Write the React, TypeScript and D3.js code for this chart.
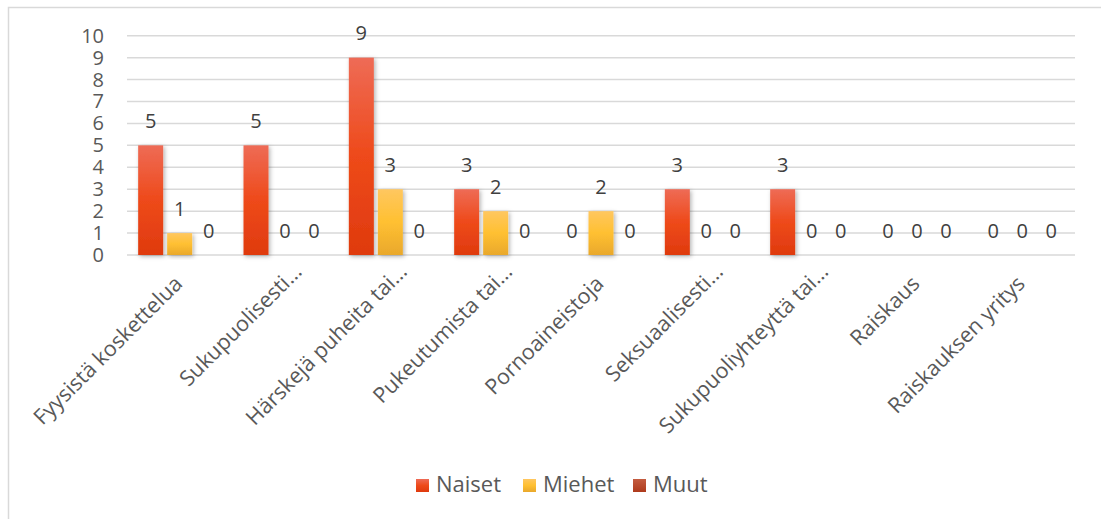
import React from 'react';
import * as d3 from 'd3';

const categories = [
  'Fyysistä koskettelua',
  'Sukupuolisesti…',
  'Härskejä puheita tai…',
  'Pukeutumista tai…',
  'Pornoaineistoja',
  'Seksuaalisesti…',
  'Sukupuoliyhteyttä tai…',
  'Raiskaus',
  'Raiskauksen yritys',
];
const seriesNames = ['Naiset', 'Miehet', 'Muut'];
const naiset = [5, 5, 9, 3, 0, 3, 3, 0, 0];
const miehet = [1, 0, 3, 2, 2, 0, 0, 0, 0];
const muut = [0, 0, 0, 0, 0, 0, 0, 0, 0];
const yTicks = [0, 1, 2, 3, 4, 5, 6, 7, 8, 9, 10];

const FONT = "'Open Sans', sans-serif";

export default function App() {
  const W = 1101;
  const H = 519;
  const plotLeft = 127;
  const plotRight = 1075;
  const plotTop = 35.7;
  const plotBottom = 255;

  const x = d3.scaleBand<string>().domain(categories).range([plotLeft, plotRight]).padding(0);
  const bw = x.bandwidth();
  const inner = d3
    .scaleBand<string>()
    .domain(seriesNames)
    .range([bw / 2 - 41.5, bw / 2 + 41.5])
    .paddingInner(0.138)
    .paddingOuter(0);
  const y = d3.scaleLinear().domain([0, 10]).range([plotBottom, plotTop]);

  const seriesData = [naiset, miehet, muut];
  const gradIds = ['gNaiset', 'gMiehet', 'gMuut'];

  const legendX = [416, 523, 633];

  return (
    <svg
      width={W}
      height={H}
      style={{ position: 'absolute', left: 0, top: 0, background: '#fff' }}
      fontFamily={FONT}
    >
      <defs>
        <linearGradient id="gNaiset" x1="0" y1="0" x2="0" y2="1">
          <stop offset="0%" stopColor="#EE6B56" />
          <stop offset="50%" stopColor="#EE4A1A" />
          <stop offset="100%" stopColor="#DF3A0E" />
        </linearGradient>
        <linearGradient id="gMiehet" x1="0" y1="0" x2="0" y2="1">
          <stop offset="0%" stopColor="#FFC760" />
          <stop offset="50%" stopColor="#FFC031" />
          <stop offset="100%" stopColor="#E9A82C" />
        </linearGradient>
        <linearGradient id="gMuut" x1="0" y1="0" x2="0" y2="1">
          <stop offset="0%" stopColor="#C45C40" />
          <stop offset="100%" stopColor="#AE3A1C" />
        </linearGradient>
        <filter id="shadow" x="-30%" y="-10%" width="160%" height="130%">
          <feDropShadow dx="1.5" dy="1.5" stdDeviation="2" floodColor="#000" floodOpacity="0.3" />
        </filter>
      </defs>

      <rect x={8.5} y={7.5} width={W} height={H} fill="#fff" stroke="#d9d9d9" strokeWidth={1.5} />

      {yTicks.map((t) => (
        <g key={t}>
          <line x1={plotLeft} x2={plotRight} y1={y(t)} y2={y(t)} stroke="#d9d9d9" strokeWidth={1.5} />
          <text x={104} y={y(t)} dy="0.35em" textAnchor="end" fontSize={20} fill="#595959">
            {t}
          </text>
        </g>
      ))}

      {categories.map((c, i) => (
        <g key={c} transform={`translate(${x(c)},0)`}>
          {seriesData.map((s, si) => {
            const v = s[i];
            const bx = inner(seriesNames[si])!;
            const w = inner.bandwidth();
            return (
              <g key={si}>
                {v > 0 && (
                  <rect
                    x={bx}
                    y={y(v)}
                    width={w}
                    height={y(0) - y(v)}
                    fill={`url(#${gradIds[si]})`}
                    filter="url(#shadow)"
                  />
                )}
                <text x={bx + w / 2} y={y(v) - 17.5} textAnchor="middle" fontSize={20} fill="#404040">
                  {v}
                </text>
              </g>
            );
          })}
        </g>
      ))}

      {categories.map((c) => {
        const cx = x(c)! + bw / 2;
        const truncated = c.endsWith('…');
        const ax = truncated ? cx + 18 : cx + 4;
        const ay = truncated ? 273 : 285;
        return (
          <text
            key={c}
            transform={`translate(${ax},${ay}) rotate(-45)`}
            textAnchor="end"
            fontSize={21.5}
            fill="#595959"
          >
            {c}
          </text>
        );
      })}

      {seriesNames.map((n, i) => (
        <g key={n} transform={`translate(${legendX[i]},479)`}>
          <rect width={13} height={13} fill={`url(#${gradIds[i]})`} />
          <text x={20} y={13} fontSize={22} fill="#595959">
            {n}
          </text>
        </g>
      ))}
    </svg>
  );
}
